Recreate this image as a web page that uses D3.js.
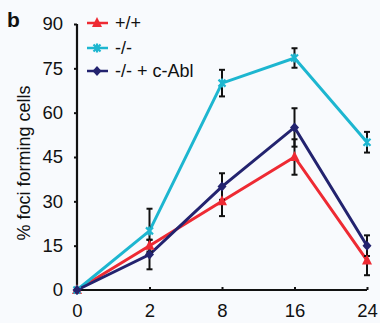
<!DOCTYPE html>
<html><head><meta charset="utf-8">
<script src="https://cdn.jsdelivr.net/npm/d3@7"></script>
<style>
html,body{margin:0;padding:0;background:#f8fafd;}
svg{display:block;font-family:"Liberation Sans",Arial,sans-serif;}
</style></head>
<body>
<svg id="chart" width="380" height="323"></svg>
<script>
const categories = ["0","2","8","16","24"];
const yTicks = [0,15,30,45,60,75,90];
const wtValues = [0,15,30,45,10];
const wtErrors = [0,2,5,6,5];
const koValues = [0,20,70,78.5,50];
const koErrors = [0,7.5,4.5,3.3,3.5];
const ablValues = [0,12,35,55,15];
const ablErrors = [0,5,4.5,6.5,3.5];
const seriesNames = ["+/+","-/-","-/- + c-Abl"];
const seriesColors = ["#ee2a33","#1db6d0","#23236f"];
const seriesShapes = ["triangle","cross","diamond"];

const series = [
  {name:seriesNames[0],values:wtValues,errors:wtErrors,color:seriesColors[0],shape:seriesShapes[0]},
  {name:seriesNames[1],values:koValues,errors:koErrors,color:seriesColors[1],shape:seriesShapes[1]},
  {name:seriesNames[2],values:ablValues,errors:ablErrors,color:seriesColors[2],shape:seriesShapes[2]}
];

const svg = d3.select("#chart");
const x = d3.scalePoint().domain(categories).range([77,367]);
const y = d3.scaleLinear().domain([0,90]).range([290,24]);

// axes
const yAxis = svg.append("g").attr("transform","translate(77,0)")
  .call(d3.axisLeft(y).tickValues(yTicks).tickSize(3).tickPadding(11));
const xAxis = svg.append("g").attr("transform","translate(0,290)")
  .call(d3.axisBottom(x).tickSize(-3).tickPadding(5).tickSizeOuter(0));
[yAxis,xAxis].forEach(a=>{
  a.select(".domain").attr("stroke","#111").attr("stroke-width",2.2);
  a.selectAll(".tick line").attr("stroke","#111").attr("stroke-width",2);
  a.selectAll(".tick text").attr("fill","#111").attr("font-size",18.5);
});
yAxis.select(".domain").attr("d","M0,"+y(90)+"V"+y(0)+"H0");
xAxis.select(".domain").attr("d","M77,0H"+x("24"));
xAxis.selectAll(".tick text").attr("y",27).attr("dy",null);

// y label
svg.append("text").attr("transform","translate(30,"+((y(0)+y(90))/2+6)+") rotate(-90)")
  .attr("text-anchor","middle").attr("font-size",18).attr("fill","#111")
  .text("% foci forming cells");
// panel letter
svg.append("text").attr("x",7).attr("y",27).attr("font-size",21).attr("font-weight","bold")
  .attr("fill","#111").text("b");

function marker(g, shape, color, cx, cy){
  if(shape==="triangle"){
    g.append("path").attr("d",`M${cx},${cy-6}L${cx+5},${cy+4}L${cx-5},${cy+4}Z`).attr("fill",color);
  } else if(shape==="diamond"){
    g.append("path").attr("d",`M${cx},${cy-5}L${cx+4.5},${cy}L${cx},${cy+5}L${cx-4.5},${cy}Z`).attr("fill",color);
  } else {
    g.append("path").attr("d",`M${cx-3.5},${cy-3.5}L${cx+3.5},${cy+3.5}M${cx+3.5},${cy-3.5}L${cx-3.5},${cy+3.5}M${cx},${cy-4.5}V${cy+4.5}`)
      .attr("stroke",color).attr("stroke-width",2.2).attr("fill","none");
  }
}

const line = d3.line().x((d,i)=>x(categories[i])).y(d=>y(d));
series.forEach(s=>{
  const g = svg.append("g");
  g.append("path").datum(s.values).attr("d",line).attr("fill","none")
    .attr("stroke",s.color).attr("stroke-width",3);
});
// error bars
series.forEach(s=>{
  const g = svg.append("g");
  s.values.forEach((v,i)=>{
    if(!s.errors[i]) return;
    const cx = x(categories[i]);
    const y1 = y(v+s.errors[i]), y2 = y(v-s.errors[i]);
    g.append("line").attr("x1",cx).attr("x2",cx).attr("y1",y1).attr("y2",y2).attr("stroke","#111").attr("stroke-width",2);
    [y1,y2].forEach(yy=>g.append("line").attr("x1",cx-3).attr("x2",cx+3).attr("y1",yy).attr("y2",yy).attr("stroke","#111").attr("stroke-width",2));
  });
});
// markers
series.forEach(s=>{
  const g = svg.append("g");
  s.values.forEach((v,i)=>marker(g,s.shape,s.color,x(categories[i]),y(v)));
});

// legend
const legY = [23,48,71];
series.forEach((s,i)=>{
  const g = svg.append("g");
  g.append("line").attr("x1",87).attr("x2",108).attr("y1",legY[i]).attr("y2",legY[i])
    .attr("stroke",s.color).attr("stroke-width",2.5);
  marker(g,s.shape,s.color,97,legY[i]);
  g.append("text").attr("x",115).attr("y",legY[i]).attr("dy","0.35em").attr("font-size",18)
    .attr("fill","#111").text(s.name);
});
</script>
</body></html>
